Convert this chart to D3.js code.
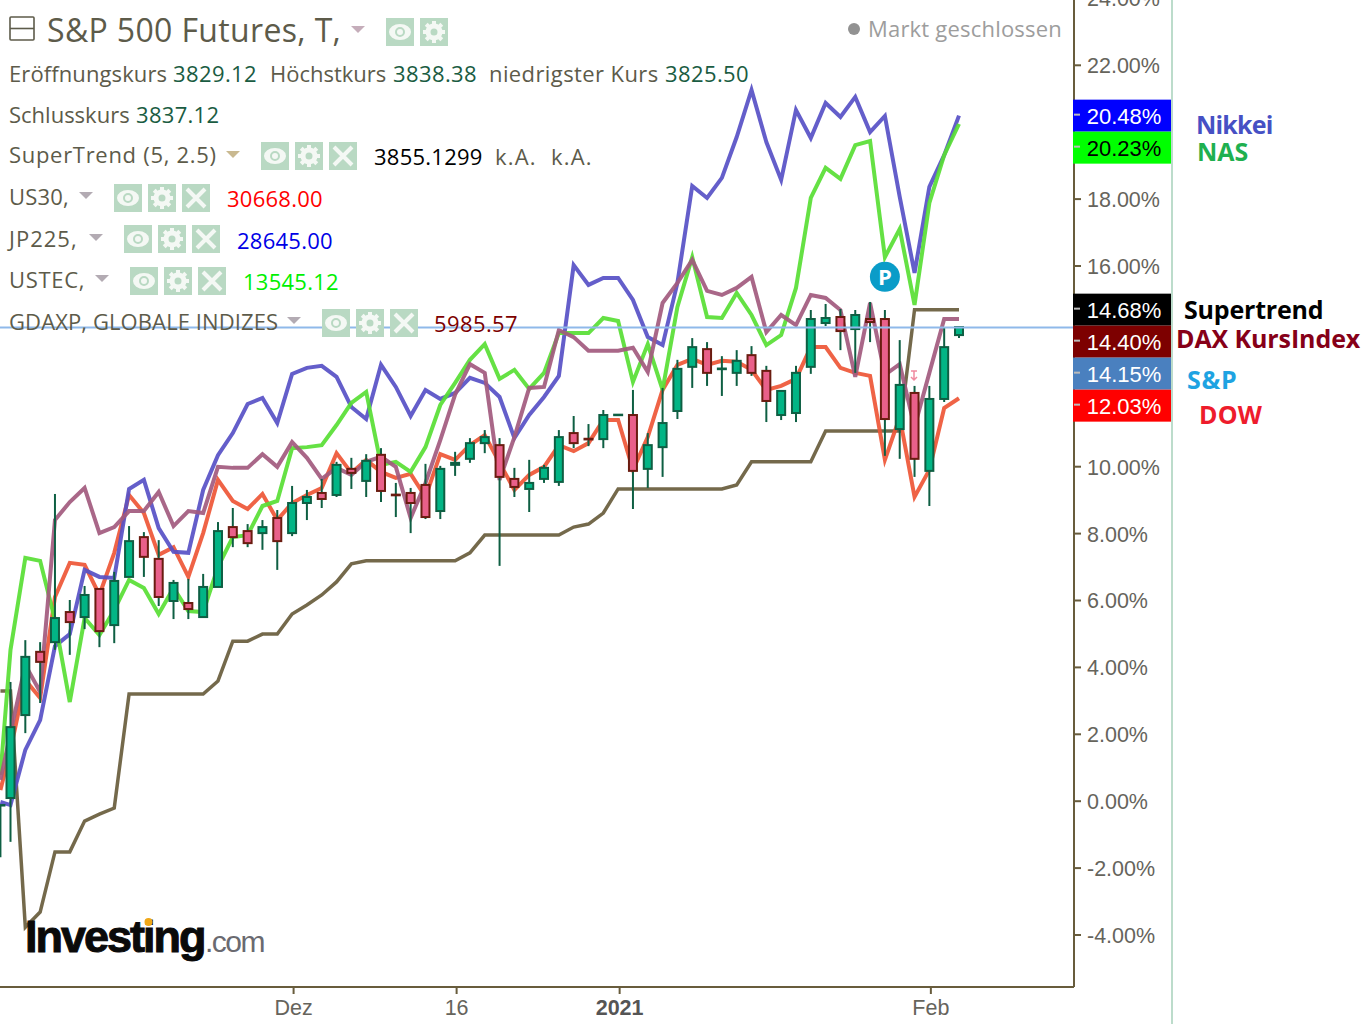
<!DOCTYPE html>
<html>
<head>
<meta charset="utf-8">
<style>
  html, body { margin: 0; padding: 0; background: #fff; overflow: hidden; }
</style>
<script src="https://cdnjs.cloudflare.com/ajax/libs/d3/7.8.5/d3.min.js"></script>
</head>
<body>
<div id="plot"></div>
<script>
"use strict";

// percent change per session, first entry sits just off the left edge
const nikkei = [-0.04,-0.13,1.52,2.41,4.62,4.98,6.90,6.69,6.66,9.32,9.59,8.15,7.44,7.41,9.29,10.33,10.99,11.86,12.04,11.29,12.76,12.94,13.00,12.67,11.77,11.41,13.03,12.37,11.50,12.28,12.01,12.19,12.64,12.49,12.07,10.84,11.53,12.07,12.70,16.01,15.42,15.63,15.63,14.97,13.86,13.62,15.48,18.38,18.02,18.62,19.84,21.25,19.69,18.56,20.65,19.81,20.86,20.44,21.04,19.99,20.47,18.05,15.78,18.35,19.30,20.48];
const nas = [0.77,4.51,7.26,7.17,5.40,2.95,5.46,4.95,5.70,6.60,6.36,5.58,6.36,5.67,5.64,6.99,7.88,7.94,8.81,8.96,10.54,10.57,10.63,11.23,11.89,12.22,10.04,10.13,9.83,10.57,11.83,12.49,13.18,13.65,12.61,12.88,12.31,12.79,13.98,13.98,13.98,14.43,14.34,12.52,13.65,12.28,14.76,16.25,14.46,14.43,15.18,14.52,13.62,13.92,15.33,18.02,18.92,18.59,19.60,19.72,16.25,17.09,14.82,17.87,19.30,20.23];
const dax = [0.62,2.02,4.06,3.25,8.39,8.93,9.35,8.00,8.18,8.66,8.66,9.23,8.21,8.66,8.60,9.98,9.95,9.95,10.36,9.98,10.72,10.25,9.62,9.95,9.74,10.13,10.28,9.98,8.45,9.50,10.78,12.14,13.05,12.79,9.59,10.87,12.34,12.37,14.07,13.86,13.45,13.45,13.45,13.54,12.82,14.88,15.48,16.17,15.24,15.12,15.33,15.66,14.01,14.52,14.22,15.12,15.03,14.67,12.67,14.88,12.73,13.05,11.17,12.79,14.40,14.40];
const dow = [0.32,1.52,3.61,3.07,6.09,7.11,7.05,6.15,7.41,9.14,8.60,7.35,7.58,6.69,8.00,9.59,8.96,8.72,9.17,8.39,8.90,9.14,9.35,10.39,9.80,10.19,9.83,9.65,9.77,9.08,10.36,10.19,10.63,10.93,10.10,9.29,9.74,9.98,10.63,10.45,10.69,11.38,11.38,9.89,10.87,12.28,13.03,13.21,13.03,13.15,13.12,12.88,12.28,12.40,12.61,13.56,13.56,12.94,12.79,12.70,10.19,11.47,9.08,9.89,11.74,12.03];
const superTrend = [3.28,3.28,-3.78,-3.33,-1.53,-1.53,-0.61,-0.40,-0.22,3.19,3.19,3.19,3.19,3.19,3.19,3.58,4.77,4.77,4.98,4.98,5.58,5.85,6.15,6.54,7.08,7.17,7.17,7.17,7.17,7.17,7.17,7.17,7.41,7.94,7.94,7.94,7.94,7.94,7.94,8.18,8.27,8.60,9.32,9.32,9.32,9.32,9.32,9.32,9.32,9.32,9.44,10.13,10.13,10.13,10.13,10.13,11.05,11.05,11.05,11.05,11.05,11.05,14.68,14.68,14.68,14.68];

// S&P candles
const spOpen = [-0.13,0.08,2.56,4.45,4.74,5.64,5.49,6.33,5.25,6.69,7.88,7.23,5.97,5.91,5.49,6.39,8.18,8.06,8.00,8.45,8.00,8.90,9.20,9.14,9.92,9.56,10.34,9.15,9.20,9.44,8.66,10.04,10.22,10.69,10.63,9.62,9.32,9.62,9.53,10.99,10.82,10.81,11.53,11.53,9.92,10.57,11.65,12.97,13.50,12.90,12.79,13.32,12.85,11.53,11.59,12.97,14.28,14.46,14.10,14.40,14.40,11.11,12.19,9.86,12.01,13.92];
const spClose = [-0.13,2.20,4.30,4.15,5.46,5.34,6.15,5.07,6.57,7.76,7.29,6.09,6.51,5.73,6.39,8.06,7.88,7.70,8.18,7.76,8.90,9.08,9.02,10.04,9.80,10.16,9.26,9.13,8.90,8.48,9.92,10.10,10.69,10.87,9.68,9.38,9.50,9.95,10.87,10.69,10.80,11.53,11.54,9.86,10.63,11.29,12.91,13.56,12.79,12.92,13.15,12.79,11.95,12.25,12.79,14.40,14.43,14.04,14.52,14.31,11.41,12.43,10.22,12.01,13.56,14.16];
const spHigh = [-0.13,3.55,4.80,4.74,9.17,6.00,6.42,6.33,6.84,8.21,8.03,7.79,6.60,6.63,6.78,8.33,8.75,8.27,8.39,8.69,9.41,9.29,9.62,10.13,10.25,10.36,10.54,9.50,9.35,10.07,10.01,10.43,10.84,11.08,10.84,9.95,10.19,10.04,11.08,11.50,11.26,11.68,11.54,12.28,10.99,12.34,13.18,13.83,13.71,13.29,13.47,13.59,13.00,12.25,13.00,14.67,14.85,14.70,14.67,14.91,14.67,13.77,12.40,12.40,14.16,14.16];
const spLow = [-1.69,-1.23,2.02,2.92,4.51,4.36,5.13,4.59,4.71,6.69,6.69,5.82,5.43,5.43,5.49,6.39,7.58,7.58,7.50,6.90,7.91,8.39,8.75,9.08,9.32,9.08,8.93,8.48,8.00,8.42,8.42,9.71,10.10,10.39,7.02,9.08,8.63,9.50,9.41,10.54,10.60,10.54,11.53,8.72,9.35,9.68,11.41,12.34,12.40,12.10,12.40,12.70,11.32,11.38,11.32,12.76,14.19,13.47,12.79,13.71,10.31,10.22,9.68,8.81,11.92,13.83];

// 12, 14 and 20 sit behind the value tags so they have no label of their own
const yTicks = [-4,-2,0,2,4,6,8,10,16,18,22,24];
const xTickSessions = [19, 30, 41, 62];
const xTickLabels = ["Dez", "16", "2021", "Feb"];

// last values on the axis, top to bottom
const tagValues = [20.48, 20.23, 14.68, 14.40, 14.15, 12.03];
const tagFill = ["#0000ff", "#00ff00", "#000000", "#7d0000", "#4a80bf", "#ff0000"];
const tagText = ["#fff", "#000", "#fff", "#fff", "#fff", "#fff"];

const sideLabels = ["Nikkei", "NAS", "Supertrend", "DAX KursIndex", "S&P", "DOW"];
const sideLabelColors = ["#4650c4", "#1fb050", "#000000", "#860018", "#1ea3e2", "#ee1c2c"];
const sideLabelX = [1196, 1197, 1184, 1176, 1187, 1199];
const sideLabelY = [134, 161, 319, 348, 389, 424];
const sideLabelSpacing = [-0.8, 0, -0.2, -0.1, 0.8, 0.2];

const msm = {
    width: 1367,
    height: 1024,
    axisX: 1074,
    axisY: 987,
    sepX: 1172,
    candleWidth: 8
}

const lineColors = {
    trend: "#685c3c",
    nikkei: "#5750c6",
    dax: "#a25a7e",
    dow: "#ee5636",
    nas: "#58de34"
}

const textColor = "#5d5b4a";
const legendFont = "'Open Sans', sans-serif";

// one x slot per session, the first one is only partly on screen
let sessions = d3.range(-1, 65);
sessions[0] = -0.68;

let plotContainer = "";
let xScale, yScale;

window.onload = function () {
    plotContainer = d3.select("#plot")
        .append("svg")
        .attr("width", msm.width)
        .attr("height", msm.height)
        .style("display", "block");

    xScale = d3.scaleLinear().domain([0, 64]).range([10.5, 959]);
    yScale = d3.scaleLinear().domain([0, 22]).range([800.7, 64.8]);

    drawLines();
    drawCandles();
    drawAxes();
    drawPriceLine();
    drawTags();
    drawSideLabels();
    drawLegend();
    drawMarkers();
    drawLogo();
}

function percentLabel(d) {
    return d3.format(".2f")(d).replace("\u2212", "-") + "%";
}

function drawLines() {
    let line = d3.line()
        .x((d, i) => xScale(sessions[i]))
        .y((d) => yScale(d))
        .curve(d3.curveLinear);

    let series = [
        [superTrend, lineColors.trend, 3.5],
        [dow, lineColors.dow, 4],
        [nikkei, lineColors.nikkei, 4],
        [nas, lineColors.nas, 4],
        [dax, lineColors.dax, 4]
    ];
    series.forEach((s) => {
        plotContainer.append("path")
            .attr("d", line(s[0]))
            .attr("fill", "none")
            .attr("stroke", s[1])
            .attr("stroke-width", s[2])
            .attr("stroke-linejoin", "miter")
            .attr("opacity", 0.92);
    });
}

function drawCandles() {
    let g = plotContainer.append("g");
    sessions.forEach((s, i) => {
        let up = spClose[i] >= spOpen[i];
        let cx = xScale(s);
        g.append("line")
            .attr("x1", cx).attr("x2", cx)
            .attr("y1", yScale(spHigh[i])).attr("y2", yScale(spLow[i]))
            .attr("stroke", "#0e5f43")
            .attr("stroke-width", 2);
        let top = yScale(Math.max(spOpen[i], spClose[i]));
        let bottom = yScale(Math.min(spOpen[i], spClose[i]));
        g.append("rect")
            .attr("x", cx - msm.candleWidth / 2)
            .attr("width", msm.candleWidth)
            .attr("y", top)
            .attr("height", Math.max(bottom - top, 0.5))
            .attr("fill", up ? "#02b585" : "#e9608a")
            .attr("stroke", up ? "#0e5f43" : "#6a1c10")
            .attr("stroke-width", 2);
    });
}

function drawAxes() {
    // y axis on the right of the plot
    let yAxis = d3.axisRight(yScale)
        .tickValues(yTicks)
        .tickSize(7)
        .tickPadding(6)
        .tickFormat(percentLabel);
    let yG = plotContainer.append("g")
        .attr("transform", "translate(" + msm.axisX + ",0)")
        .call(yAxis);
    yG.select(".domain").remove();
    yG.selectAll(".tick line").attr("stroke", lineColors.trend).attr("stroke-width", 2);
    yG.selectAll(".tick text")
        .attr("dy", "0.37em")
        .style("font-family", "'Liberation Sans', Arial, sans-serif")
        .style("font-size", "21.5px")
        .attr("fill", "#66645c");

    plotContainer.append("line")
        .attr("x1", msm.axisX).attr("x2", msm.axisX)
        .attr("y1", 0).attr("y2", msm.axisY)
        .attr("stroke", lineColors.trend).attr("stroke-width", 2);
    plotContainer.append("line")
        .attr("x1", 0).attr("x2", msm.axisX)
        .attr("y1", msm.axisY).attr("y2", msm.axisY)
        .attr("stroke", lineColors.trend).attr("stroke-width", 2);

    // date ticks
    xTickSessions.forEach((s, i) => {
        let tx = xScale(s) + 1.5;
        plotContainer.append("line")
            .attr("x1", tx).attr("x2", tx)
            .attr("y1", msm.axisY).attr("y2", msm.axisY + 7)
            .attr("stroke", lineColors.trend).attr("stroke-width", 2);
        plotContainer.append("text")
            .attr("x", tx)
            .attr("y", msm.axisY + 28)
            .attr("text-anchor", "middle")
            .style("font-family", "'Liberation Sans', Arial, sans-serif")
            .style("font-size", "21.5px")
            .style("font-weight", xTickLabels[i] === "2021" ? "bold" : "normal")
            .attr("fill", xTickLabels[i] === "2021" ? "#555" : "#66645c")
            .text(xTickLabels[i]);
    });

    plotContainer.append("line")
        .attr("x1", msm.sepX).attr("x2", msm.sepX)
        .attr("y1", 0).attr("y2", msm.height)
        .attr("stroke", "#bcdccb").attr("stroke-width", 2);
}

function drawPriceLine() {
    plotContainer.append("line")
        .attr("x1", 0).attr("x2", msm.axisX)
        .attr("y1", yScale(14.15)).attr("y2", yScale(14.15))
        .attr("stroke", "#8fb9ea")
        .attr("stroke-width", 2);
}

function drawTags() {
    // tags stack downward when two values are too close
    let prev = -100;
    tagValues.forEach((v, i) => {
        let cy = Math.max(yScale(v), prev + 32);
        prev = cy;
        plotContainer.append("rect")
            .attr("x", msm.axisX - 1).attr("width", msm.sepX - msm.axisX)
            .attr("y", cy - 16).attr("height", 32)
            .attr("fill", tagFill[i]);
        plotContainer.append("line")
            .attr("x1", msm.axisX).attr("x2", msm.axisX + 6)
            .attr("y1", cy - 1).attr("y2", cy - 1)
            .attr("stroke", "#bbb").attr("stroke-width", 2);
        plotContainer.append("text")
            .attr("x", msm.axisX + 50)
            .attr("y", cy + 8)
            .attr("text-anchor", "middle")
            .style("font-family", "'Liberation Sans', Arial, sans-serif")
            .style("font-size", "22px")
            .attr("fill", tagText[i])
            .text(percentLabel(v));
    });
}

function drawSideLabels() {
    sideLabels.forEach((t, i) => {
        plotContainer.append("text")
            .attr("x", sideLabelX[i])
            .attr("y", sideLabelY[i])
            .style("font-family", "'Open Sans', sans-serif")
            .style("font-weight", "bold")
            .style("font-size", "25px")
            .style("letter-spacing", sideLabelSpacing[i] + "px")
            .attr("fill", sideLabelColors[i])
            .text(t);
    });
}

function legendText(x, y, str, color, spacing, size) {
    plotContainer.append("text")
        .attr("x", x).attr("y", y)
        .style("font-family", legendFont)
        .style("font-size", (size || 22) + "px")
        .style("letter-spacing", (spacing || 0) + "px")
        .attr("fill", color || textColor)
        .text(str);
}

function caret(x, y, color) {
    plotContainer.append("path")
        .attr("d", "M" + x + "," + y + "h14l-7,7z")
        .attr("fill", color || "#b3abb3");
}

function button(x, y, kind) {
    let g = plotContainer.append("g").attr("transform", "translate(" + x + "," + y + ")");
    g.append("rect").attr("width", 28).attr("height", 28).attr("fill", "#b9d9c3");
    if (kind === "eye") {
        g.append("ellipse").attr("cx", 14).attr("cy", 14).attr("rx", 11).attr("ry", 8).attr("fill", "#f4f8f4");
        g.append("circle").attr("cx", 14).attr("cy", 14).attr("r", 4).attr("fill", "none")
            .attr("stroke", "#b9d9c3").attr("stroke-width", 2);
    } else if (kind === "gear") {
        g.append("circle").attr("cx", 14).attr("cy", 14).attr("r", 6).attr("fill", "none")
            .attr("stroke", "#f4f8f4").attr("stroke-width", 5);
        d3.range(8).forEach((k) => {
            g.append("rect").attr("x", 12).attr("y", 3).attr("width", 4).attr("height", 5)
                .attr("fill", "#f4f8f4")
                .attr("transform", "rotate(" + k * 45 + ",14,14)");
        });
    } else {
        g.append("path").attr("d", "M5,5L23,23M23,5L5,23")
            .attr("stroke", "#f4f8f4").attr("stroke-width", 4);
    }
}

function drawLegend() {
    // collapse box
    plotContainer.append("rect")
        .attr("x", 10).attr("y", 17).attr("width", 24).attr("height", 23).attr("rx", 1)
        .attr("fill", "none").attr("stroke", textColor).attr("stroke-width", 1.6);
    plotContainer.append("line")
        .attr("x1", 10).attr("x2", 34).attr("y1", 28.5).attr("y2", 28.5)
        .attr("stroke", textColor).attr("stroke-width", 1.6);

    legendText(47, 42, "S&P 500 Futures, T,", textColor, 0.35, 32);
    caret(351, 26, "#c5adba");
    button(386, 18, "eye");
    button(420, 18, "gear");

    const green = "#1a5c42";
    legendText(9, 82, "Eröffnungskurs", textColor, 0.1);
    legendText(173, 82, "3829.12", green, 0.4);
    legendText(270, 82, "Höchstkurs");
    legendText(393, 82, "3838.38", green, 0.4);
    legendText(489, 82, "niedrigster Kurs", textColor, 0.4);
    legendText(665, 82, "3825.50", green, 0.4);

    legendText(9, 123, "Schlusskurs");
    legendText(136, 123, "3837.12", green, 0.3);

    legendText(9, 163, "SuperTrend (5, 2.5)", textColor, 0.7);
    caret(226, 151, "#c9b990");
    button(261, 142, "eye"); button(295, 142, "gear"); button(329, 142, "x");
    legendText(374, 165, "3855.1299", "#000", 0.25);
    legendText(495, 165, "k.A.", textColor, 1.2);
    legendText(551, 165, "k.A.", textColor, 1.2);

    legendText(9, 205, "US30,", textColor, 0.2);
    caret(79, 192);
    button(114, 184, "eye"); button(148, 184, "gear"); button(182, 184, "x");
    legendText(227, 207, "30668.00", "#ff0000", 0.25);

    legendText(9, 247, "JP225,", textColor, 1);
    caret(89, 234);
    button(124, 225, "eye"); button(158, 225, "gear"); button(192, 225, "x");
    legendText(237, 249, "28645.00", "#0000e6", 0.25);

    legendText(9, 288, "USTEC,", textColor, 0.7);
    caret(95, 275);
    button(130, 267, "eye"); button(164, 267, "gear"); button(198, 267, "x");
    legendText(243, 290, "13545.12", "#00f000", 0.25);

    legendText(9, 330, "GDAXP, GLOBALE INDIZES", textColor, 0.1);
    caret(287, 317);
    button(322, 309, "eye"); button(356, 309, "gear"); button(390, 309, "x");
    legendText(434, 332, "5985.57", "#7d0000", 0.4);

    // market state
    plotContainer.append("circle")
        .attr("cx", 854).attr("cy", 29).attr("r", 6).attr("fill", "#929292");
    legendText(868, 37, "Markt geschlossen", "#9d9d9d", 0.2);
}

function drawMarkers() {
    plotContainer.append("circle")
        .attr("cx", xScale(59)).attr("cy", yScale(15.66)).attr("r", 15)
        .attr("fill", "#0a9cc8");
    plotContainer.append("text")
        .attr("x", xScale(59)).attr("y", yScale(15.66) + 8)
        .attr("text-anchor", "middle")
        .style("font-family", "'Open Sans', sans-serif")
        .style("font-weight", "bold")
        .style("font-size", "22px")
        .attr("fill", "#fff")
        .text("P");
    plotContainer.append("path")
        .attr("d", "M911,371h6M914,371v9M911,377l3,3l3,-3")
        .attr("fill", "none")
        .attr("stroke", "#f08aa0")
        .attr("stroke-width", 1.5);
}

function drawLogo() {
    plotContainer.append("text")
        .attr("x", 25).attr("y", 952)
        .style("font-family", "'Liberation Sans', Arial, sans-serif")
        .style("font-weight", "bold")
        .style("font-size", "45px")
        .style("letter-spacing", "-2px")
        .attr("fill", "#0a0a0a")
        .attr("stroke", "#0a0a0a")
        .attr("stroke-width", 1)
        .text("Investing");
    plotContainer.append("text")
        .attr("x", 205).attr("y", 952)
        .style("font-family", "'Liberation Sans', Arial, sans-serif")
        .style("font-size", "30px")
        .style("letter-spacing", "-1.5px")
        .attr("fill", "#6a6a70")
        .text(".com");
    plotContainer.append("circle")
        .attr("cx", 148.5).attr("cy", 922).attr("r", 4).attr("fill", "#f0a818");
}
</script>
</body>
</html>
